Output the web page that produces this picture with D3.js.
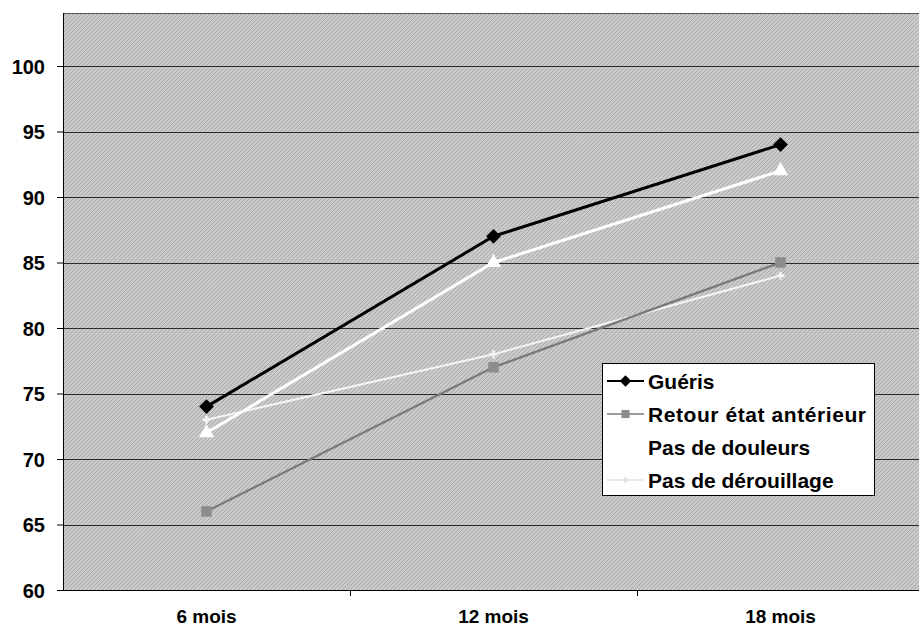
<!DOCTYPE html>
<html><head><meta charset="utf-8">
<script src="https://cdn.jsdelivr.net/npm/d3@7"></script>
<style>body{margin:0;background:#fff}svg{display:block}text{font-family:"Liberation Sans",Arial,sans-serif;font-weight:bold;fill:#000}</style>
</head><body>
<svg id="c" width="919" height="630"></svg>
<script>
const categories = ["6 mois", "12 mois", "18 mois"];
const yTicks = [60, 65, 70, 75, 80, 85, 90, 95, 100];
const gueris = [74, 87, 94];
const retour = [66, 77, 85];
const douleurs = [72, 85, 92];
const derouillage = [73, 78, 84];
const seriesNames = ["Guéris", "Retour état antérieur", "Pas de douleurs", "Pas de dérouillage"];

(function(){
const svg = d3.select("#c");
const pL = 63, pR = 924, pT = 13, pB = 590;
const x = d3.scaleBand().domain(categories).range([pL, pR]);
const y = d3.scaleLinear().domain([60, 100]).range([pB, 66]);

const defs = svg.append("defs");
const pat = defs.append("pattern").attr("id","ht").attr("width",4).attr("height",4).attr("patternUnits","userSpaceOnUse");
pat.append("rect").attr("width",4).attr("height",4).attr("fill","#cecece");
pat.append("path").attr("d","M0,4 L4,0 M-1,1 L1,-1 M3,5 L5,3").attr("stroke","#a8a8a8").attr("stroke-width",1);
const flt = defs.append("filter").attr("id","noise").attr("x",0).attr("y",0).attr("width","100%").attr("height","100%");
flt.append("feTurbulence").attr("type","fractalNoise").attr("baseFrequency",0.9).attr("numOctaves",1).attr("seed",3).attr("result","n");
flt.append("feColorMatrix").attr("in","n").attr("type","matrix").attr("values","0 0 0 0 0.45  0 0 0 0 0.45  0 0 0 0 0.45  0 0 0 0.28 0").attr("result","g");
flt.append("feComposite").attr("in","g").attr("in2","SourceGraphic").attr("operator","in");

svg.append("rect").attr("x",pL).attr("y",pT).attr("width",pR-pL).attr("height",pB-pT).attr("fill","url(#ht)");
svg.append("rect").attr("x",pL).attr("y",pT).attr("width",pR-pL).attr("height",pB-pT).attr("fill","#999").attr("filter","url(#noise)");
svg.append("line").attr("x1",pL).attr("x2",pR).attr("y1",pT+0.5).attr("y2",pT+0.5).attr("stroke","#555");

svg.append("g").selectAll("line").data(yTicks.slice(1)).join("line")
  .attr("x1",pL).attr("x2",pR).attr("y1",d=>Math.round(y(d))+0.5).attr("y2",d=>Math.round(y(d))+0.5)
  .attr("stroke","#2a2a2a").attr("stroke-width",1);

const ya = svg.append("g").attr("transform",`translate(${pL},0)`)
  .call(d3.axisLeft(y).tickValues(yTicks).tickSize(6).tickPadding(12));
ya.select(".domain").attr("d",`M0.5,${pT}V${pB}`).attr("stroke","#000");
ya.selectAll("text").style("font-size","20px").attr("dy","0.36em");
ya.selectAll(".tick line").attr("stroke","#000");

const xa = svg.append("g").attr("transform",`translate(0,${pB})`)
  .call(d3.axisBottom(x).tickSize(0).tickPadding(20));
xa.select(".domain").attr("d",`M${pL},0.5H${pR}`).attr("stroke","#000");
xa.selectAll("text").style("font-size","19px");
svg.append("g").selectAll("line").data(categories.slice(1)).join("line")
  .attr("x1",d=>Math.round(x(d))+0.5).attr("x2",d=>Math.round(x(d))+0.5).attr("y1",pB).attr("y2",pB+6).attr("stroke","#000");

const diamond = {draw(ctx,size){const r=Math.sqrt(size/2);ctx.moveTo(0,-r);ctx.lineTo(r,0);ctx.lineTo(0,r);ctx.lineTo(-r,0);ctx.closePath();}};
const cx = d => x(d) + x.bandwidth()/2;
const line = d3.line().x(d=>cx(d[0])).y(d=>y(d[1]));
const series = [
  {name:seriesNames[0], vals:gueris, color:"#000", w:3, sym:diamond, size:110, fill:"#000"},
  {name:seriesNames[1], vals:retour, color:"#7a7a7a", w:2.2, sym:d3.symbolSquare, size:110, fill:"#8c8c8c"},
  {name:seriesNames[2], vals:douleurs, color:"#fff", w:3, sym:d3.symbolTriangle, size:100, fill:"#fff"},
  {name:seriesNames[3], vals:derouillage, color:"#f4f4f4", w:2, sym:d3.symbolCross, size:35, fill:"#f4f4f4"}
];
[3,1,2,0].forEach(i=>{
  const s = series[i];
  const pts = categories.map((c,j)=>[c,s.vals[j]]);
  svg.append("path").attr("d",line(pts)).attr("fill","none").attr("stroke",s.color).attr("stroke-width",s.w).attr("stroke-linejoin","round");
  svg.append("g").selectAll("path").data(pts).join("path")
    .attr("transform",d=>`translate(${cx(d[0])},${y(d[1])})`)
    .attr("d",d3.symbol(s.sym,s.size)).attr("fill",s.fill);
});

const lg = svg.append("g").attr("transform","translate(602,363)");
lg.append("rect").attr("x",0.5).attr("y",0.5).attr("width",272).attr("height",132).attr("fill","#fff").attr("stroke","#000");
series.forEach((s,i)=>{
  const yy = 18 + i*33;
  lg.append("line").attr("x1",5).attr("x2",42).attr("y1",yy).attr("y2",yy).attr("stroke",i===3?"#e6e6e6":s.color).attr("stroke-width",i===0?2:1.6);
  lg.append("path").attr("transform",`translate(23.5,${yy})`).attr("d",d3.symbol(s.sym,s.size*0.6)).attr("fill",i===3?"#e0e0e0":s.fill);
  lg.append("text").attr("x",46).attr("y",yy).attr("dy","0.36em").style("font-size","21px").attr("textLength",i===1?218:null).text(s.name);
});
})();
</script>
</body></html>
